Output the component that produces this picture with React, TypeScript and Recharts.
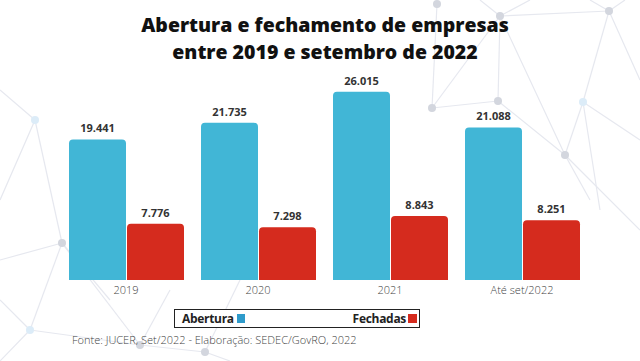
import React from 'react';
import { BarChart, Bar, XAxis, YAxis, LabelList } from 'recharts';

const categories = ['2019', '2020', '2021', 'Até set/2022'];
const abertura = [19441, 21735, 26015, 21088];
const fechadas = [7776, 7298, 8843, 8251];

const data = categories.map((c, i) => ({ name: c, abertura: abertura[i], fechadas: fechadas[i] }));

const fmt = (v: any) => String(v).replace(/\B(?=(\d{3})+(?!\d))/g, '.');

const BLUE = '#41B6D6';
const RED = '#D52B1E';

// decorative background network (not data)
const bgNodes: [number, number, string][] = [
  [437, 4, '#d3d6de'], [500, 16, '#d3d6de'], [609, 11, '#d3d6de'], [432, 108, '#d3d6de'],
  [498, 101, '#d3d6de'], [583, 102, '#dcecf8'], [565, 155, '#d3d6de'], [62, 243, '#d3d6de'],
  [35, 120, '#dcecf8'], [30, 330, '#dcecf8'], [140, 345, '#d3d6de'], [205, 352, '#d3d6de'],
];
const bgEdges: [number, number, number, number][] = [
  [437, 4, 432, 108], [500, 16, 498, 101], [432, 108, 498, 101], [432, 108, 500, 16],
  [500, 16, 609, 11], [500, 16, 565, 155], [609, 11, 583, 102], [583, 102, 565, 155],
  [583, 102, 640, 140], [609, 11, 640, 80], [498, 101, 565, 155], [500, 16, 480, 0],
  [500, 16, 530, 0], [609, 11, 590, 0], [609, 11, 625, 0], [565, 155, 590, 200],
  [565, 155, 640, 230], [583, 102, 600, 210],
  [35, 120, 0, 90], [35, 120, 62, 243], [35, 120, 0, 200], [62, 243, 0, 260], [62, 243, 110, 300],
  [62, 243, 140, 345], [30, 330, 0, 300], [30, 330, 140, 345], [30, 330, 62, 243], [140, 345, 205, 352],
  [205, 352, 240, 280], [140, 345, 170, 290], [30, 330, 0, 361], [205, 352, 230, 361],
];

export default function App() {
  return (
    <div style={{ position: 'absolute', left: 0, top: 0, width: 640, height: 361, background: '#fff', overflow: 'hidden', fontFamily: '"Open Sans", sans-serif' }}>
      <svg width={640} height={361} style={{ position: 'absolute', left: 0, top: 0 }}>
        {bgEdges.map((e, i) => (
          <line key={i} x1={e[0]} y1={e[1]} x2={e[2]} y2={e[3]} stroke="#e6e8ef" strokeWidth={1.2} />
        ))}
        {bgNodes.map((n, i) => (
          <circle key={i} cx={n[0]} cy={n[1]} r={4} fill={n[2]} />
        ))}
      </svg>
      <div style={{ position: 'absolute', left: 10, top: 11, width: 630, textAlign: 'center', fontWeight: 800, fontSize: 19.5, lineHeight: '27px', color: '#111' }}>
        Abertura e fechamento de empresas<br />entre 2019 e setembro de 2022
      </div>
      <div style={{ position: 'absolute', left: 0, top: 0 }}>
        <BarChart width={640} height={361} data={data} margin={{ top: 63, left: 60, right: 52, bottom: 61 }} barGap={1} barCategoryGap={9}>
          <YAxis hide domain={[0, 30000]} />
          <XAxis dataKey="name" axisLine={false} tickLine={false} height={20} tickMargin={0} tick={{ fontSize: 11, fill: '#444', fontWeight: 300, fontFamily: '"Open Sans", sans-serif' }} interval={0} />
          <Bar dataKey="abertura" fill={BLUE} radius={[4, 4, 0, 0]} isAnimationActive={false}>
            <LabelList dataKey="abertura" position="top" offset={7} formatter={fmt} style={{ fontSize: 11, fontWeight: 700, fill: '#333', fontFamily: '"Open Sans", sans-serif' }} />
          </Bar>
          <Bar dataKey="fechadas" fill={RED} radius={[4, 4, 0, 0]} isAnimationActive={false}>
            <LabelList dataKey="fechadas" position="top" offset={7} formatter={fmt} style={{ fontSize: 11, fontWeight: 700, fill: '#333', fontFamily: '"Open Sans", sans-serif' }} />
          </Bar>
        </BarChart>
      </div>
      <div style={{ position: 'absolute', left: 174, top: 309, width: 246, height: 19, boxSizing: 'border-box', border: '1.5px solid #222', background: '#fff', display: 'flex', alignItems: 'center', justifyContent: 'space-between', padding: '0 2px 0 7px', fontSize: 12, fontWeight: 700, color: '#222', letterSpacing: -0.3 }}>
        <span style={{ display: 'flex', alignItems: 'center' }}>Abertura<span style={{ display: 'inline-block', width: 8, height: 9, background: '#2F9BCB', marginLeft: 3 }} /></span>
        <span style={{ display: 'flex', alignItems: 'center' }}>Fechadas<span style={{ display: 'inline-block', width: 9, height: 9, background: RED, marginLeft: 2 }} /></span>
      </div>
      <div style={{ position: 'absolute', left: 72, top: 332, fontSize: 11, fontWeight: 300, color: '#444' }}>
        Fonte: JUCER, Set/2022 - Elaboração: SEDEC/GovRO, 2022
      </div>
    </div>
  );
}
